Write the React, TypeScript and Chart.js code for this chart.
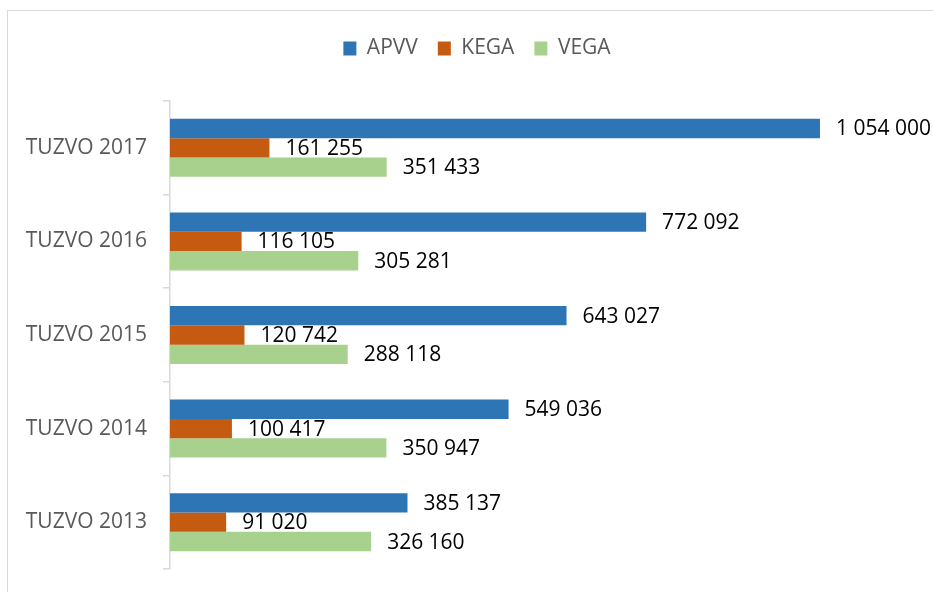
import React, { useEffect, useRef } from "react";
import { Chart, registerables } from "chart.js";

Chart.register(...registerables);

const categories = ["TUZVO 2017", "TUZVO 2016", "TUZVO 2015", "TUZVO 2014", "TUZVO 2013"];
const apvv = [1054000, 772092, 643027, 549036, 385137];
const kega = [161255, 116105, 120742, 100417, 91020];
const vega = [351433, 305281, 288118, 350947, 326160];
const seriesNames = ["APVV", "KEGA", "VEGA"];
const seriesColors = ["#2E75B6", "#C55A11", "#A9D18E"];

const FONT = "'Open Sans', 'Liberation Sans', sans-serif";
const FSIZE = 21;

function fmt(v: number): string {
  return String(v).replace(/\B(?=(\d{3})+(?!\d))/g, " ");
}

const valueLabels = {
  id: "valueLabels",
  afterLayout(chart: any) {
    const lg = chart.legend;
    if (lg) {
      lg.left += 22;
      lg.right += 22;
    }
  },
  afterDatasetsDraw(chart: any) {
    const ctx = chart.ctx;
    ctx.save();
    ctx.font = `${FSIZE}px ${FONT}`;
    ctx.fillStyle = "#000000";
    ctx.textAlign = "left";
    ctx.textBaseline = "middle";
    chart.data.datasets.forEach((ds: any, i: number) => {
      const meta = chart.getDatasetMeta(i);
      meta.data.forEach((bar: any, j: number) => {
        ctx.fillText(fmt(ds.data[j]), bar.x + 16, bar.y + 1);
      });
    });
    ctx.restore();
  },
};

export default function App() {
  const ref = useRef<HTMLCanvasElement>(null);
  useEffect(() => {
    if (!ref.current) return;
    const chart = new Chart(ref.current, {
      type: "bar",
      data: {
        labels: categories,
        datasets: [apvv, kega, vega].map((d, i) => ({
          label: seriesNames[i],
          data: d,
          backgroundColor: seriesColors[i],
          borderWidth: 0,
          barPercentage: 1,
          categoryPercentage: 0.62,
        })),
      },
      options: {
        indexAxis: "y",
        animation: false,
        responsive: true,
        maintainAspectRatio: false,
        layout: { padding: { top: 18, right: 40, bottom: 23, left: 0 } },
        plugins: {
          legend: {
            position: "top",
            labels: {
              boxWidth: 13,
              boxHeight: 14,
              padding: 20,
              color: "#595959",
              font: { family: FONT, size: FSIZE },
            },
          },
          tooltip: { enabled: false },
        },
        scales: {
          x: {
            position: "top",
            min: 0,
            max: 1200000,
            display: true,
            grid: { display: false },
            border: { display: false },
            ticks: { display: false },
            afterFit(scale: any) {
              scale.height = 32;
            },
          },
          y: {
            grid: {
              display: true,
              drawOnChartArea: false,
              drawTicks: true,
              tickLength: 7,
              color: "#D9D9D9",
              lineWidth: 1.5,
            },
            border: { display: true, color: "#D9D9D9", width: 1.5 },
            ticks: {
              color: "#595959",
              padding: 16,
              font: { family: FONT, size: FSIZE },
            },
            afterFit(scale: any) {
              scale.width = 170;
              scale.paddingTop = 0;
              scale.paddingBottom = 0;
            },
          },
        },
      },
      plugins: [valueLabels],
    } as any);
    return () => chart.destroy();
  }, []);

  return (
    <>
      <div
        style={{
          position: "fixed",
          left: 7,
          top: 10,
          width: 1000,
          height: 1000,
          border: "1.5px solid #D9D9D9",
          pointerEvents: "none",
        }}
      />
      <div style={{ position: "fixed", left: 0, top: 0, width: 950, height: 592 }}>
        <canvas ref={ref} />
      </div>
    </>
  );
}
